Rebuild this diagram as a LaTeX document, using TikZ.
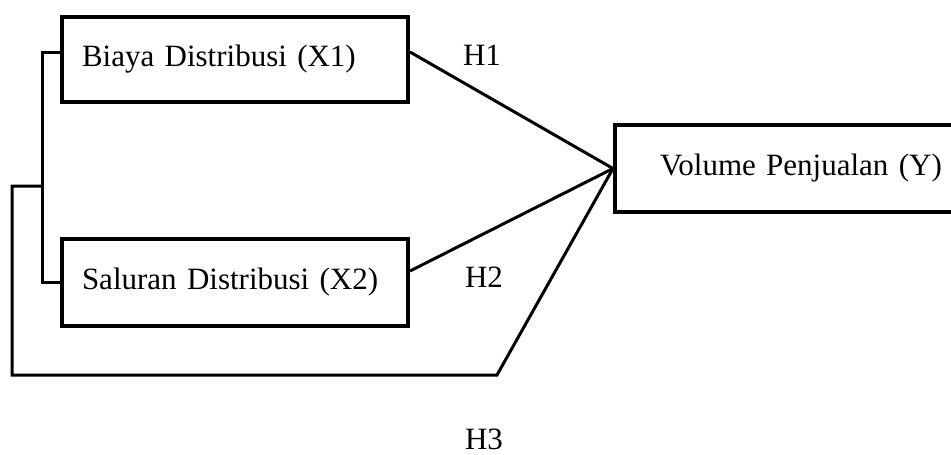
\documentclass[tikz,border=0pt]{standalone}
\usepackage{fontspec}
\setmainfont{Liberation Serif}
\usetikzlibrary{calc}
\begin{document}
\begin{tikzpicture}[x=1pt,y=-1pt,
  box/.style={draw=black, line width=4pt, rectangle, anchor=north west, inner ysep=0pt, align=left, font=\fontsize{31}{36}\selectfont},
  conn/.style={draw=black, line width=3pt, line join=miter},
  hlab/.style={font=\fontsize{31}{36}\selectfont, inner sep=0pt}]
\useasboundingbox (0,0) rectangle (951,455);
\node[box, minimum width=346, minimum height=85, text width=306, inner xsep=20] (x1) at (60,15) {Biaya Distribusi (X1)};
\node[box, minimum width=346, minimum height=87, text width=306, inner xsep=20] (x2) at (60,237) {Saluran Distribusi (X2)};
\node[box, minimum width=400, minimum height=87, text width=310, inner xsep=45] (y) at (613,123) {Volume Penjualan (Y)};
\coordinate (b1) at (42,52);
\coordinate (b2) at (42,282);
\coordinate (bm) at (42,186);
\coordinate (l1) at (12,186);
\coordinate (l2) at (12,375);
\coordinate (l3) at (497,375);
\coordinate (s1) at (0,52);
\coordinate (s2) at (0,271);
\draw[conn] (x1.west |- b1) -- (b1) -- (b2) -- (x2.west |- b2);
\draw[conn] (x1.east |- s1) -- (y.west);
\draw[conn] (x2.east |- s2) -- (y.west);
\draw[conn] (bm) -- (l1) -- (l2) -- (l3) -- (y.west);
\node[hlab] (h1) at (482,55) {H1};
\node[hlab] (h2) at (484,277) {H2};
\node[hlab] (h3) at (484,439) {H3};
\end{tikzpicture}
\end{document}
